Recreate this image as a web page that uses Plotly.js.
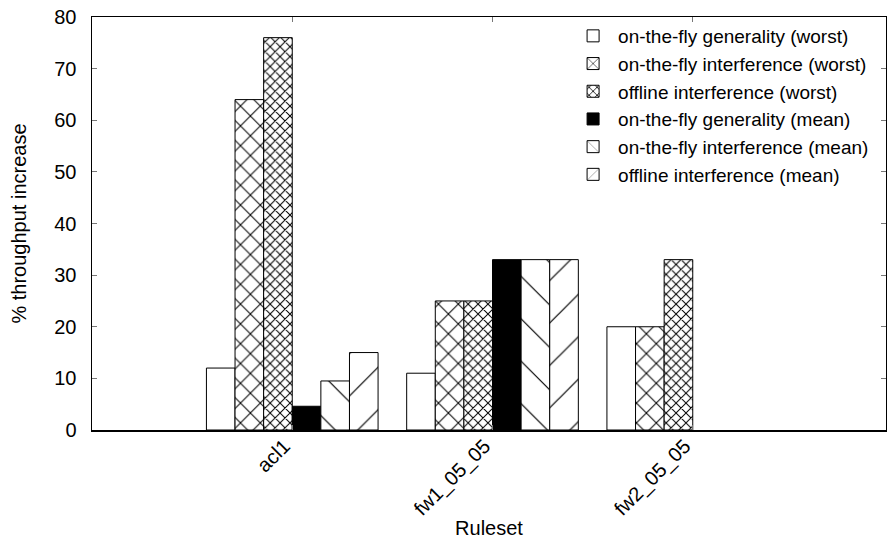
<!DOCTYPE html>
<html>
<head>
<meta charset="utf-8">
<script src="https://cdn.plot.ly/plotly-3.0.1.min.js"></script>
<style>html,body{margin:0;padding:0;background:#fff;}#chart{width:887px;height:539px;}</style>
</head>
<body>
<div id="chart"></div>
<script>
// Data
var categories = ['acl1', 'fw1_05_05', 'fw2_05_05'];
var seriesNames = [
  'on-the-fly generality (worst)',
  'on-the-fly interference (worst)',
  'offline interference (worst)',
  'on-the-fly generality (mean)',
  'on-the-fly interference (mean)',
  'offline interference (mean)'
];
var genWorst = [12, 11, 20];
var intWorst = [64, 25, 20];
var offWorst = [76, 25, 33];
var genMean = [4.6, 33, null];
var intMean = [9.5, 33, null];
var offMean = [15, 33, null];
var yTicks = [0, 10, 20, 30, 40, 50, 60, 70, 80];

var seriesValues = [genWorst, intWorst, offWorst, genMean, intMean, offMean];
var styles = [
  {color: '#ffffff', pattern: {shape: ''}},
  {color: '#ffffff', pattern: {shape: 'x', size: 14, solidity: 0.14, fgcolor: '#000', bgcolor: '#fff', fillmode: 'replace'}},
  {color: '#ffffff', pattern: {shape: 'x', size: 7, solidity: 0.27, fgcolor: '#000', bgcolor: '#fff', fillmode: 'replace'}},
  {color: '#000000', pattern: {shape: ''}},
  {color: '#ffffff', pattern: {shape: '\\', size: 30, solidity: 0.04, fgcolor: '#000', bgcolor: '#fff', fillmode: 'replace'}},
  {color: '#ffffff', pattern: {shape: '/', size: 30, solidity: 0.04, fgcolor: '#000', bgcolor: '#fff', fillmode: 'replace'}}
];

var font = 'Liberation Sans, Arial, Helvetica, sans-serif';
var traces = seriesValues.map(function (vals, i) {
  return {
    type: 'bar',
    name: seriesNames[i],
    x: categories,
    y: vals,
    marker: {
      color: styles[i].color,
      pattern: styles[i].pattern,
      line: {color: '#000', width: 1}
    },
    hoverinfo: 'x+y+name'
  };
});

var layout = {
  width: 887,
  height: 539,
  margin: {l: 92, r: 1, t: 17, b: 109},
  paper_bgcolor: '#fff',
  plot_bgcolor: '#fff',
  font: {family: font, size: 20, color: '#000'},
  barmode: 'group',
  bargap: 1 / 7,
  bargroupgap: 0,
  showlegend: true,
  legend: {
    x: 0.985, xanchor: 'right', y: 1, yanchor: 'top',
    bgcolor: 'rgba(0,0,0,0)',
    font: {family: font, size: 19, color: '#000'},
    traceorder: 'normal',
    itemwidth: 40
  },
  xaxis: {
    type: 'category',
    range: [-1, 2.965],
    showline: true, linecolor: '#000', linewidth: 1.5, mirror: 'ticks',
    ticks: 'inside', ticklen: 5, tickcolor: '#777',
    tickangle: -45,
    ticklabelstandoff: -5,
    ticklabelshift: -8,
    showgrid: false, zeroline: false,
    tickfont: {family: font, size: 20},
    title: {text: 'Ruleset', font: {family: font, size: 20}, standoff: 4}
  },
  yaxis: {
    range: [0, 80],
    tickvals: yTicks,
    ticktext: yTicks.map(String),
    showline: true, linecolor: '#000', linewidth: 1.5, mirror: 'ticks',
    ticks: 'inside', ticklen: 5, tickcolor: '#777',
    showgrid: false, zeroline: false,
    ticklabelstandoff: 10,
    tickfont: {family: font, size: 20},
    title: {text: '% throughput increase', font: {family: font, size: 20}, standoff: 22}
  }
};

Plotly.newPlot('chart', traces, layout, {displayModeBar: false, staticPlot: true});
</script>
</body>
</html>
